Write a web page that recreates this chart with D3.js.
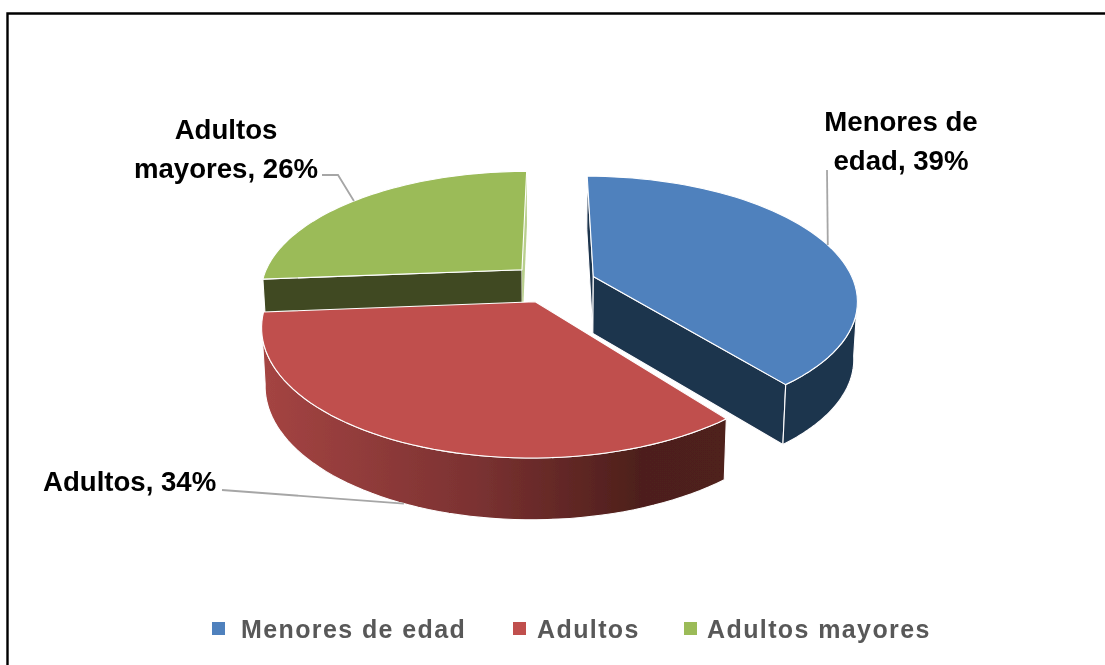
<!DOCTYPE html>
<html>
<head>
<meta charset="utf-8">
<script src="https://d3js.org/d3.v7.min.js"></script>
<style>
  html, body { margin: 0; padding: 0; background: #fff; }
  svg { display: block; }
  text { font-family: "Liberation Sans", sans-serif; font-weight: bold; }
</style>
</head>
<body>
<svg width="1105" height="665"></svg>
<script>
var categories = ["Menores de edad", "Adultos", "Adultos mayores"];
var values = [39, 34, 26];
var topColors = ["#4f81bd", "#c0504d", "#9bbb59"];
var wallColors = ["#1f344e", "url(#redWall)", "#414a22"];
var labelLines = [["Menores de", "edad, 39%"], ["Adultos, 34%"], ["Adultos", "mayores, 26%"]];

var svg = d3.select("svg");
var width = +svg.attr("width");
var height = +svg.attr("height");

// frame, only top and left edges are inside the picture
svg.append("path")
    .attr("d", "M7.5," + height + "V13.5H" + width)
    .attr("fill", "none")
    .attr("stroke", "#000")
    .attr("stroke-width", 2.4);

// tilted disc with some perspective, z > 0 goes to the back
var cx = 553, cy = 283;
var radiusX = 261, radiusY = 120.5, persp = 0.18, depth = 57, explode = 0.165;

function project(x, z, h) {
  var k = 1 / (1 + persp * z);
  return [
    cx + radiusX * x * k * (1 - 0.012 * h),
    cy - radiusY * z * k + depth * h * Math.pow(k, 0.35)
  ];
}

var pie = d3.pie().sort(null).value(function(d) { return d; });
var slices = pie(values);
var line = d3.line();

function rim(d, a, h) {
  var mid = (d.startAngle + d.endAngle) / 2;
  return project(explode * Math.sin(mid) + Math.sin(a), explode * Math.cos(mid) + Math.cos(a), h);
}
function apex(d, h) {
  var mid = (d.startAngle + d.endAngle) / 2;
  return project(explode * Math.sin(mid), explode * Math.cos(mid), h);
}
function arcPoints(d, a0, a1, h) {
  var n = 60;
  return d3.range(n + 1).map(function(i) { return rim(d, a0 + (a1 - a0) * i / n, h); });
}

var defs = svg.append("defs");
var redX = d3.extent(arcPoints(slices[1], slices[1].startAngle, slices[1].endAngle, 1), function(p) { return p[0]; });
var grad = defs.append("linearGradient")
    .attr("id", "redWall")
    .attr("gradientUnits", "userSpaceOnUse")
    .attr("x1", redX[0]).attr("x2", redX[1]).attr("y1", 0).attr("y2", 0);
grad.selectAll("stop")
    .data([[0, "#a44442"], [0.45, "#7c3232"], [0.82, "#4d1f1b"], [1, "#4f201c"]])
    .enter().append("stop")
    .attr("offset", function(d) { return d[0]; })
    .attr("stop-color", function(d) { return d[1]; });

// the picture is a soft upscaled screenshot
defs.append("filter").attr("id", "soft")
  .append("feGaussianBlur").attr("stdDeviation", 0.4);

var chart = svg.append("g").attr("filter", "url(#soft)");

// back slices first so the red one sits on top of the green wall
var order = [2, 0, 1];
var g = chart.append("g").attr("stroke", "#fff").attr("stroke-width", 1.1).attr("stroke-linejoin", "round");

order.forEach(function(i) {
  var d = slices[i];
  var s = g.append("g");
  var a0 = d.startAngle, a1 = d.endAngle;

  // the two cut faces, the red ones are turned away from the viewer
  if (i !== 1) {
    [a0, a1].forEach(function(a, j) {
      s.append("path")
          .attr("d", line([apex(d, 0), rim(d, a, 0), rim(d, a, 1), apex(d, 1)]) + "Z")
          .attr("fill", i === 2 && j === 1 ? "#b9cf8e" : wallColors[i])
          .attr("stroke", i === 2 && j === 1 ? "none" : null);
    });
  }
  // outer wall, only the part that faces the viewer
  var lo = Math.max(a0, Math.acos(-persp));
  var hi = Math.min(a1, 2 * Math.PI - Math.acos(-persp));
  if (hi > lo) {
    s.append("path")
        .attr("d", line(arcPoints(d, lo, hi, 0).concat(arcPoints(d, hi, lo, 1))) + "Z")
        .attr("fill", wallColors[i]);
  }
  // top
  s.append("path")
      .attr("d", line([apex(d, 0)].concat(arcPoints(d, a0, a1, 0))) + "Z")
      .attr("fill", topColors[i]);
});

// labels and leader lines
var labelBoxes = [
  {x: 901, y: [131, 170], anchor: "middle", elbow: [827, 170]},
  {x: 43, y: [491], anchor: "start", elbow: [222, 490]},
  {x: 226, y: [139, 178], anchor: "middle", elbow: [338, 175]}
];
var leaderStart = [[827, 170], [222, 490], [322, 175]];
var leaderShift = [0.05, 0, -0.02];

slices.forEach(function(d, i) {
  var mid = (d.startAngle + d.endAngle) / 2 + leaderShift[i];
  var end = rim(d, mid, i === 1 ? 1 : 0);
  var pts = [leaderStart[i], labelBoxes[i].elbow, end];
  chart.append("path")
      .attr("d", line(pts))
      .attr("fill", "none")
      .attr("stroke", "#a6a6a6")
      .attr("stroke-width", 1.8);

  var t = chart.append("text")
      .attr("text-anchor", labelBoxes[i].anchor)
      .attr("font-size", 27.6)
      .attr("fill", "#000");
  labelLines[i].forEach(function(txt, j) {
    t.append("tspan")
        .attr("x", labelBoxes[i].x)
        .attr("y", labelBoxes[i].y[j])
        .text(txt);
  });
});

// legend
var legendX = d3.scaleOrdinal().domain(categories).range([212, 513, 684]);
var legendTextX = d3.scaleOrdinal().domain(categories).range([29, 24, 23]);
var legend = chart.append("g").selectAll("g")
    .data(categories)
    .enter().append("g")
    .attr("transform", function(d) { return "translate(" + legendX(d) + ",0)"; });
legend.append("rect")
    .attr("y", 622).attr("width", 13).attr("height", 13)
    .attr("fill", function(d, i) { return topColors[i]; });
legend.append("text")
    .attr("x", function(d) { return legendTextX(d); }).attr("y", 638)
    .attr("font-size", 25)
    .attr("letter-spacing", 1.4)
    .attr("fill", "#595959")
    .text(function(d) { return d; });
</script>
</body>
</html>
